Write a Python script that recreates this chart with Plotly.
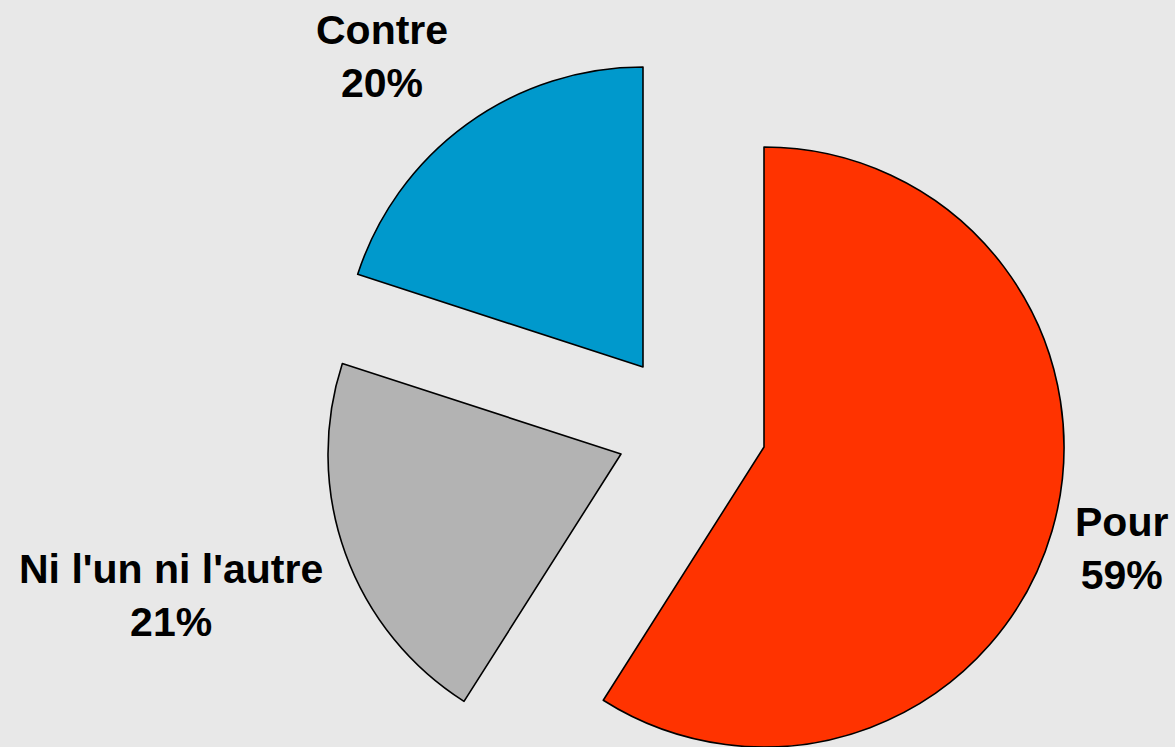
import plotly.graph_objects as go

# ---- data ----
categories = ["Pour", "Ni l'un ni l'autre", "Contre"]
values = [59, 21, 20]
percent_labels = ["59%", "21%", "20%"]
colors = ["#FF3300", "#B3B3B3", "#0099CC"]

W, H = 1175, 747

# exploded-slice placement (apex pixel position and radius for each slice)
apex_px = [(764, 447), (621, 454), (643, 367)]
radius_px = [300, 293, 300]

# label block centres (pixels)
label_px = [(1121, 548), (171, 595), (382, 56)]


def domain_for(cx, cy, r):
    x0, x1 = (cx - r) / W, (cx + r) / W
    y0, y1 = (H - (cy + r)) / H, (H - (cy - r)) / H
    return dict(x=[max(0, x0), min(1, x1)], y=[max(0, y0), min(1, y1)])


fig = go.Figure()
for i, cat in enumerate(categories):
    slice_colors = [colors[j] if j == i else "rgba(0,0,0,0)" for j in range(len(categories))]
    line_w = [1.6 if j == i else 0 for j in range(len(categories))]
    cx, cy = apex_px[i]
    fig.add_trace(go.Pie(
        labels=categories,
        values=values,
        sort=False,
        direction="clockwise",
        rotation=0,
        marker=dict(colors=slice_colors, line=dict(color="#000000", width=line_w)),
        textinfo="none",
        hoverinfo="label+percent",
        showlegend=False,
        domain=domain_for(cx, cy, radius_px[i]),
    ))

for i, cat in enumerate(categories):
    lx, ly = label_px[i]
    fig.add_annotation(
        x=lx / W, y=1 - ly / H, xref="paper", yref="paper",
        text=f"{cat}<br>{percent_labels[i]}",
        showarrow=False, xanchor="center", yanchor="middle", align="center",
        font=dict(family="Liberation Sans, Arial, sans-serif", size=41,
                  color="#000000", weight="bold"),
    )

fig.update_layout(
    width=W, height=H,
    margin=dict(l=0, r=0, t=0, b=0),
    paper_bgcolor="#E8E8E8",
    plot_bgcolor="#E8E8E8",
    font=dict(family="Liberation Sans, Arial, sans-serif"),
)

fig.write_html("out.html", config={"displayModeBar": False},
               post_script="document.body.style.margin='0px';")
